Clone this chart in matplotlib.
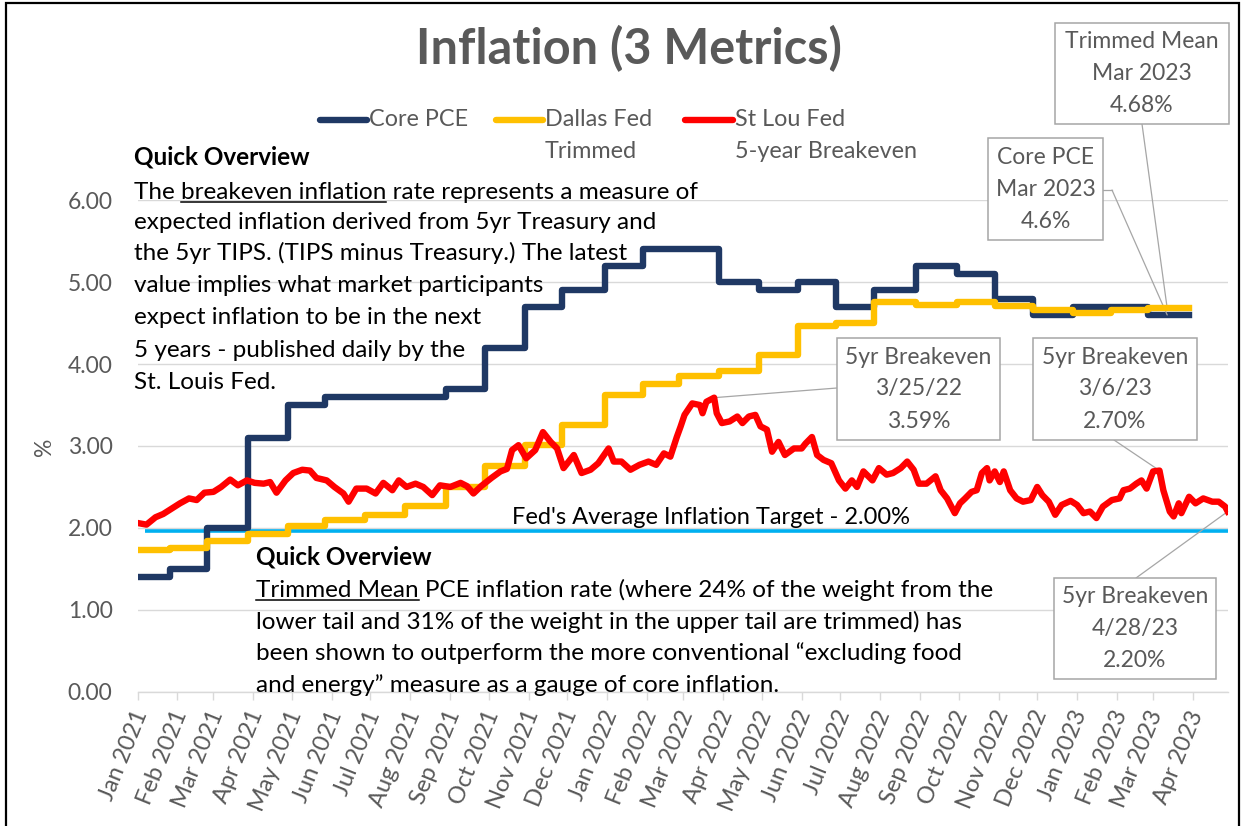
import numpy as np
import pandas as pd
import matplotlib
matplotlib.use("Agg")
from matplotlib import pyplot as plt
import matplotlib.dates as mdates
from matplotlib.patches import Rectangle
from matplotlib.lines import Line2D
from matplotlib.transforms import IdentityTransform, ScaledTranslation
from matplotlib.font_manager import FontProperties

plt.rcParams['font.family'] = ['Lato', 'DejaVu Sans']

# Core PCE (monthly, value holds until next release)
pce_dates = ["2021-01-01", "2021-01-26", "2021-02-24", "2021-03-28", "2021-04-28", "2021-05-27",
             "2021-08-29", "2021-09-28", "2021-10-29", "2021-11-27", "2021-12-30", "2022-01-29",
             "2022-03-29", "2022-04-29", "2022-05-29", "2022-06-28", "2022-07-27", "2022-08-29",
             "2022-09-30", "2022-10-29", "2022-11-28", "2022-12-29", "2023-02-25"]
pce_vals = [1.4, 1.5, 2.0, 3.1, 3.5, 3.6, 3.7, 4.2, 4.7, 4.9, 5.2, 5.4,
            5.0, 4.9, 5.0, 4.7, 4.9, 5.2, 5.1, 4.8, 4.6, 4.7, 4.6]

# Dallas Fed trimmed mean
tm_dates = ["2021-01-01", "2021-01-26", "2021-02-24", "2021-03-28", "2021-04-28", "2021-05-27",
            "2021-06-27", "2021-07-28", "2021-08-29", "2021-09-28", "2021-10-29", "2021-11-27",
            "2021-12-30", "2022-01-29", "2022-02-26", "2022-03-29", "2022-04-29", "2022-05-29",
            "2022-06-28", "2022-07-27", "2022-08-29", "2022-09-30", "2022-10-29", "2022-11-28",
            "2022-12-29", "2023-01-27", "2023-02-25"]
tm_vals = [1.73, 1.76, 1.84, 1.93, 2.02, 2.10, 2.16, 2.27, 2.50, 2.76, 3.01, 3.26,
           3.62, 3.76, 3.85, 3.91, 4.11, 4.46, 4.50, 4.76, 4.72, 4.76, 4.71, 4.66,
           4.62, 4.66, 4.68]
step_end = "2023-03-29"

# St Louis Fed 5-year breakeven
be_dates = ["2021-01-01", "2021-01-08", "2021-01-15", "2021-01-21", "2021-01-28", "2021-02-03", "2021-02-10", "2021-02-16", "2021-02-22", "2021-03-01",
            "2021-03-07", "2021-03-14", "2021-03-20", "2021-03-27", "2021-04-02", "2021-04-09", "2021-04-14", "2021-04-19", "2021-04-26", "2021-05-02",
            "2021-05-09", "2021-05-15", "2021-05-20", "2021-05-28", "2021-06-03", "2021-06-10", "2021-06-14", "2021-06-20", "2021-06-28", "2021-07-05",
            "2021-07-11", "2021-07-18", "2021-07-23", "2021-07-29", "2021-08-05", "2021-08-11", "2021-08-18", "2021-08-24", "2021-09-01", "2021-09-09",
            "2021-09-14", "2021-09-19", "2021-09-25", "2021-10-03", "2021-10-10", "2021-10-15", "2021-10-19", "2021-10-24", "2021-10-30", "2021-11-06",
            "2021-11-12", "2021-11-18", "2021-11-23", "2021-11-28", "2021-12-06", "2021-12-12", "2021-12-19", "2021-12-25",
            "2022-01-02", "2022-01-06", "2022-01-12", "2022-01-19", "2022-01-26", "2022-02-02", "2022-02-08", "2022-02-14", "2022-02-19", "2022-02-24", "2022-02-27",
            "2022-03-02", "2022-03-08", "2022-03-14", "2022-03-16", "2022-03-19", "2022-03-25", "2022-03-27", "2022-03-31", "2022-04-06", "2022-04-12", "2022-04-16", "2022-04-21", "2022-04-26", "2022-04-30",
            "2022-05-05", "2022-05-09", "2022-05-14", "2022-05-19", "2022-05-26", "2022-06-01", "2022-06-04", "2022-06-09", "2022-06-13", "2022-06-18", "2022-06-24", "2022-06-30",
            "2022-07-05", "2022-07-10", "2022-07-14", "2022-07-19", "2022-07-26", "2022-07-31", "2022-08-06", "2022-08-11", "2022-08-17", "2022-08-22", "2022-08-27", "2022-08-31",
            "2022-09-06", "2022-09-13", "2022-09-17", "2022-09-22", "2022-09-28", "2022-10-02", "2022-10-06", "2022-10-11", "2022-10-15", "2022-10-19", "2022-10-23", "2022-10-25", "2022-10-29",
            "2022-11-02", "2022-11-05", "2022-11-10", "2022-11-15", "2022-11-20", "2022-11-26", "2022-12-01", "2022-12-05", "2022-12-10", "2022-12-15", "2022-12-20", "2022-12-27",
            "2023-01-01", "2023-01-06", "2023-01-11", "2023-01-16", "2023-01-21", "2023-01-28", "2023-02-03", "2023-02-06", "2023-02-11", "2023-02-16", "2023-02-20", "2023-02-24",
            "2023-03-01", "2023-03-06", "2023-03-09", "2023-03-14", "2023-03-17", "2023-03-21", "2023-03-23", "2023-03-29", "2023-04-03", "2023-04-09", "2023-04-16", "2023-04-21", "2023-04-26", "2023-04-28"]
be_vals = [2.06, 2.04, 2.13, 2.17, 2.24, 2.30, 2.36, 2.34, 2.43, 2.44,
           2.50, 2.59, 2.52, 2.58, 2.55, 2.54, 2.56, 2.43, 2.58, 2.67,
           2.71, 2.70, 2.61, 2.58, 2.50, 2.42, 2.32, 2.48, 2.48, 2.42,
           2.55, 2.46, 2.58, 2.50, 2.54, 2.50, 2.40, 2.52, 2.50, 2.55,
           2.51, 2.42, 2.51, 2.61, 2.69, 2.72, 2.95, 3.01, 2.85, 2.95,
           3.17, 3.05, 2.97, 2.73, 2.89, 2.67, 2.71, 2.79,
           2.97, 2.81, 2.81, 2.71, 2.77, 2.81, 2.77, 2.91, 2.87, 3.11, 3.24,
           3.38, 3.52, 3.50, 3.40, 3.54, 3.59, 3.40, 3.28, 3.30, 3.36, 3.28, 3.36, 3.38, 3.24,
           3.20, 2.93, 3.05, 2.89, 2.97, 2.97, 3.03, 3.11, 2.89, 2.83, 2.79, 2.58,
           2.48, 2.58, 2.50, 2.69, 2.58, 2.73, 2.65, 2.67, 2.73, 2.81, 2.71, 2.54,
           2.54, 2.63, 2.46, 2.36, 2.18, 2.30, 2.36, 2.44, 2.46, 2.67, 2.73, 2.58, 2.69,
           2.56, 2.69, 2.46, 2.36, 2.32, 2.34, 2.50, 2.40, 2.32, 2.16, 2.28, 2.33,
           2.28, 2.18, 2.20, 2.12, 2.26, 2.34, 2.36, 2.46, 2.48, 2.54, 2.58, 2.48,
           2.69, 2.70, 2.46, 2.20, 2.14, 2.30, 2.18, 2.38, 2.30, 2.36, 2.32, 2.32, 2.26, 2.20]

fed_dates = ["2021-01-07", "2023-04-28"]
fed_vals = [1.96, 1.96]

# callouts: (lines, anchor date, anchor value)
callouts = {
    "tm": (["Trimmed Mean", "Mar 2023", "4.68%"], "2023-03-12", 4.68),
    "pce": (["Core PCE", "Mar 2023", "4.6%"], "2023-03-12", 4.6),
    "be1": (["5yr Breakeven", "3/25/22", "3.59%"], "2022-03-25", 3.59),
    "be2": (["5yr Breakeven", "3/6/23", "2.70%"], "2023-03-06", 2.70),
    "be3": (["5yr Breakeven", "4/28/23", "2.20%"], "2023-04-28", 2.20),
}

W, H = 1243, 826
NAVY = '#1F3864'
GOLD = '#FFC000'
RED = '#FF0000'
SKY = '#00B0F0'
GREY = '#595959'
BOXC = '#A6A6A6'
FS = 16.5     # legend / axis / callouts
BODY = 17.5   # overview text

fig = plt.figure(figsize=(W / 100, H / 100), dpi=100)
ax = fig.add_axes([137.5 / W, 1 - 691.7 / H, (1227.7 - 137.5) / W, (691.7 - 200.3) / H])

d = lambda s: pd.to_datetime(s)

ax.plot(d(fed_dates), fed_vals, color=SKY, lw=2.6, solid_capstyle='butt', zorder=2)
ax.step(d(pce_dates + [step_end]), pce_vals + [pce_vals[-1]], where='post', color=NAVY, lw=4.6, zorder=3)
ax.step(d(tm_dates + [step_end]), tm_vals + [tm_vals[-1]], where='post', color=GOLD, lw=4.6, zorder=4)
ax.plot(d(be_dates), be_vals, color=RED, lw=4.6, zorder=5, solid_joinstyle='round')

ax.set_ylim(0, 6.0)
ax.set_xlim(d("2021-01-01"), d("2023-04-28"))
ax.set_yticks(np.arange(0, 7, 1))
ax.yaxis.set_major_formatter(plt.FuncFormatter(lambda v, p: f"{v:.2f}"))
ax.grid(axis='y', color='#D9D9D9', lw=1)
ax.set_axisbelow(True)
for s in ['top', 'right', 'left']:
    ax.spines[s].set_visible(False)
ax.spines['bottom'].set_color('#D9D9D9')
ax.spines['bottom'].set_linewidth(1)
ax.tick_params(axis='y', length=0, pad=18, labelsize=FS, labelcolor=GREY)
ax.tick_params(axis='x', length=6, color='#D9D9D9', width=1, labelsize=17, labelcolor=GREY, pad=8)
ax.xaxis.set_major_locator(mdates.MonthLocator())
ax.xaxis.set_major_formatter(mdates.DateFormatter('%b %Y'))
shift = ScaledTranslation(4 / 100, 0, fig.dpi_scale_trans)
for lab in ax.get_xticklabels():
    lab.set_rotation(68)
    lab.set_ha('right')
    lab.set_va('center')
    lab.set_rotation_mode('anchor')
    lab.set_transform(lab.get_transform() + shift)
fig.text(45 / W, 1 - 447 / H, '%', rotation=90, ha='center', va='center', color=GREY, fontsize=FS)

ident = IdentityTransform()
r = fig.canvas.get_renderer()

# outer frame
fig.add_artist(Rectangle((6 / W, -0.01), (1239 - 6) / W, 1.01 - 3 / H, transform=fig.transFigure,
                         fill=False, edgecolor='black', lw=1.6, zorder=10))

# title
fig.text(629 / W, 1 - 49 / H, "Inflation (3 Metrics)", ha='center', va='center',
         fontsize=35, fontweight='bold', color=GREY)

# legend drawn by hand (Excel style, wrapped labels)
leg = [(320, 367, NAVY, ["Core PCE"]),
       (496, 543, GOLD, ["Dallas Fed", "Trimmed"]),
       (685, 733, RED, ["St Lou Fed", "5-year Breakeven"])]
for x0, x1, c, labs in leg:
    fig.add_artist(Line2D([x0, x1], [H - 120, H - 120], transform=ident, color=c, lw=4.6,
                          solid_capstyle='round'))
    for i, t in enumerate(labs):
        fig.text(x1 + 2, H - 120 - 31.5 * i, t, transform=ident, va='center', ha='left',
                 fontsize=16.8, color=GREY)


def text_lines(x, ys, lines):
    fp = FontProperties(family=['Lato', 'DejaVu Sans'], size=BODY)
    wid = lambda s: r.get_text_width_height_descent(s, fp, ismath=False)[0]
    space = wid('a a') - wid('aa')
    for y, line in zip(ys, lines):
        if isinstance(line, tuple):
            pre, und, post = line
            fig.text(x, H - y - 7, pre + und + post, transform=ident, va='baseline', ha='left',
                     fontsize=BODY, color='black')
            u0 = x + (wid(pre.rstrip()) + space if pre else 0)
            u1 = u0 + wid(und)
            fig.add_artist(Line2D([u0, u1], [H - y - 10, H - y - 10], transform=ident,
                                  color='black', lw=1.1))
        else:
            bold = line == "Quick Overview"
            fig.text(x, H - y - 7, line, transform=ident, va='baseline', ha='left',
                     fontsize=BODY, color='black', fontweight='bold' if bold else 'normal')


text_lines(134, [158, 192, 222, 253, 285, 317, 350, 382],
           ["Quick Overview",
            ("The ", "breakeven inflation", " rate represents a measure of"),
            "expected inflation derived from 5yr Treasury and",
            "the 5yr TIPS. (TIPS minus Treasury.) The latest",
            "value implies what market participants",
            "expect inflation to be in the next",
            "5 years - published daily by the",
            "St. Louis Fed."])
text_lines(256, [557, 590, 622, 653, 685],
           ["Quick Overview",
            ("", "Trimmed Mean", " PCE inflation rate (where 24% of the weight from the"),
            "lower tail and 31% of the weight in the upper tail are trimmed) has",
            "been shown to outperform the more conventional \u201cexcluding food",
            "and energy\u201d measure as a gauge of core inflation."])

fig.text(512 / W, 1 - 517 / H, "Fed's Average Inflation Target - 2.00%", ha='left', va='center',
         fontsize=17, color='black')

# callout boxes: key -> (x0, y0, x1, y1, leader start)
boxes = {
    "tm": (1055, 23, 1229, 124, (1142, 124)),
    "pce": (988, 138, 1103, 240, (1112, 190)),
    "be1": (837, 338, 1000, 440, (837, 388)),
    "be2": (1033, 338, 1197, 440, (1114, 440)),
    "be3": (1054, 578, 1216, 679, (1136, 578)),
}
for k, (lines, dt, v) in callouts.items():
    x0, y0, x1, y1, (lx, ly) = boxes[k]
    fig.add_artist(Rectangle((x0, H - y1), x1 - x0, y1 - y0, transform=ident, facecolor='white',
                             edgecolor=BOXC, lw=1.1, zorder=6))
    yc = (y0 + y1) / 2
    for i, t in enumerate(lines):
        fig.text((x0 + x1) / 2, H - (yc + (i - 1) * 32), t, transform=ident, ha='center',
                 va='center', fontsize=FS, color=GREY, zorder=7)
    ax.annotate('', xy=(d(dt), v), xycoords='data', xytext=(lx, H - ly),
                textcoords='figure pixels', annotation_clip=False,
                arrowprops=dict(arrowstyle='-', color=BOXC, lw=0.9, shrinkA=0, shrinkB=0))
    if k == "pce":
        fig.add_artist(Line2D([x1, lx], [H - ly, H - ly], transform=ident, color=BOXC, lw=0.9))

fig.savefig('out.png', dpi=100)
